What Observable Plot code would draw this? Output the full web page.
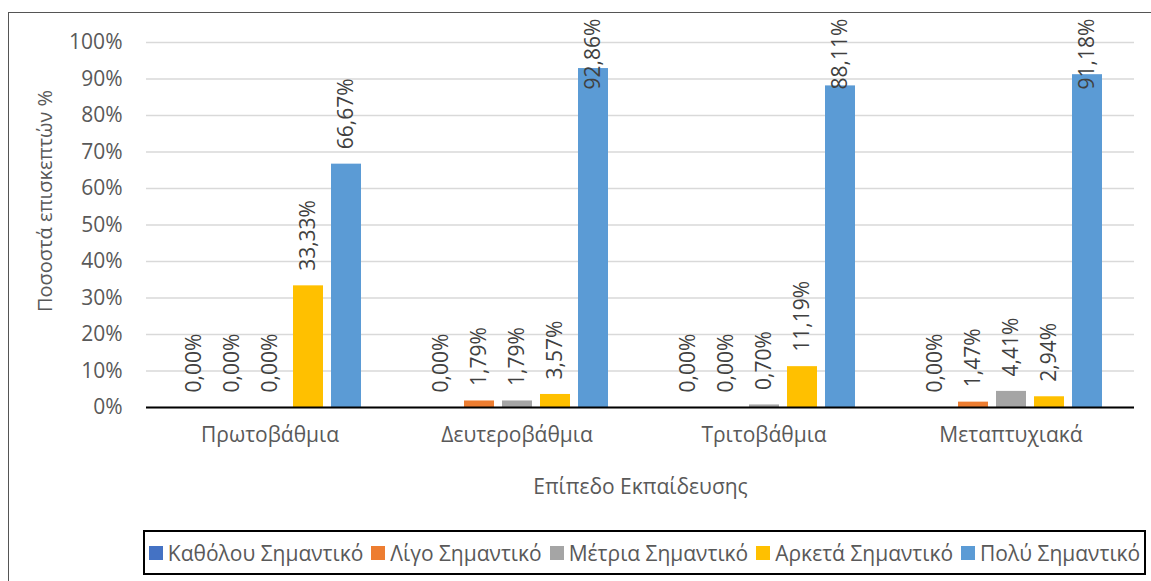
<!DOCTYPE html>
<html>
<head>
<meta charset="utf-8">
<script src="https://cdn.jsdelivr.net/npm/d3@7"></script>
<script src="https://cdn.jsdelivr.net/npm/@observablehq/plot@0.6"></script>
<style>
  html, body { margin: 0; padding: 0; background: #fff; }
  #wrap { position: relative; width: 1151px; height: 581px; overflow: hidden; font-family: "Open Sans", sans-serif; }
  #frame { position: absolute; left: 8px; top: 12px; width: 1200px; height: 700px; border-left: 1.5px solid #555; border-top: 1.5px solid #555; box-sizing: border-box; }
  #chart { position: absolute; left: 0; top: 0; }
  #ytitle { position: absolute; left: 44px; top: 201px; transform: translate(-50%, -50%) rotate(-90deg); font-size: 20px; color: #595959; white-space: nowrap; }
  #legend { position: absolute; left: 143px; top: 530px; width: 1003px; height: 45px; box-sizing: border-box; border: 2px solid #000; display: flex; align-items: center; justify-content: center; gap: 8px; font-size: 21px; color: #595959; white-space: nowrap; }
  #legend .item { display: flex; align-items: center; gap: 5px; }
  #legend .sw { width: 14px; height: 14px; display: inline-block; }
</style>
</head>
<body>
<div id="wrap">
  <div id="frame"></div>
  <div id="chart"></div>
  <div id="ytitle"></div>
  <div id="legend"></div>
</div>
<script>
const categories = ["Πρωτοβάθμια", "Δευτεροβάθμια", "Τριτοβάθμια", "Μεταπτυχιακά"];
const series = ["Καθόλου Σημαντικό", "Λίγο Σημαντικό", "Μέτρια Σημαντικό", "Αρκετά Σημαντικό", "Πολύ Σημαντικό"];
const katholou = [0, 0, 0, 0];
const ligo = [0, 1.79, 0, 1.47];
const metria = [0, 1.79, 0.70, 4.41];
const arketa = [33.33, 3.57, 11.19, 2.94];
const poly = [66.67, 92.86, 88.11, 91.18];
const colors = ["#4472C4", "#ED7D31", "#A5A5A5", "#FFC000", "#5B9BD5"];
const yTicks = [0, 10, 20, 30, 40, 50, 60, 70, 80, 90, 100];
const yTitle = "Ποσοστά επισκεπτών %";
const xTitle = "Επίπεδο Εκπαίδευσης";
const labelCap = 83; // labels kept inside the chart area, as in the original

const seriesValues = [katholou, ligo, metria, arketa, poly];
const data = [];
categories.forEach((c, ci) => {
  series.forEach((s, si) => {
    data.push({cat: c, series: s, value: seriesValues[si][ci]});
  });
});
const fmt = v => v.toFixed(2).replace(".", ",") + "%";

const chart = Plot.plot({
  width: 1151,
  height: 520,
  marginLeft: 145,
  marginRight: 16,
  marginTop: 42,
  marginBottom: 113,
  style: {fontFamily: "'Open Sans', sans-serif", fontSize: "21px", color: "#595959", background: "transparent"},
  fx: {domain: categories, padding: 0},
  x: {domain: series, paddingInner: 0.22, paddingOuter: 0.83, axis: null},
  y: {domain: [0, 100]},
  color: {domain: series, range: colors},
  marks: [
    Plot.gridY(yTicks, {stroke: "#d9d9d9", strokeOpacity: 1, strokeWidth: 1.5}),
    Plot.barY(data, {fx: "cat", x: "series", y: "value", fill: "series"}),
    Plot.ruleY([0], {stroke: "#000", strokeWidth: 2}),
    Plot.axisY(yTicks, {tickSize: 0, tickPadding: 24, tickFormat: d => d + "%", line: true, stroke: "#000", strokeWidth: 2,
      label: null, fontSize: 21}),
    Plot.axisFx({anchor: "bottom", tickSize: 0, tickPadding: 20, label: xTitle, labelAnchor: "center", labelOffset: 86, fontSize: 21}),
    Plot.text(data, {fx: "cat", x: "series", y: d => Math.min(d.value, labelCap), text: d => fmt(d.value),
      rotate: -90, textAnchor: "start", dy: -15, fontSize: 21, fill: "#404040"})
  ]
});
document.getElementById("chart").appendChild(chart);
document.getElementById("ytitle").textContent = yTitle;

const legend = document.getElementById("legend");
series.forEach((s, i) => {
  const item = document.createElement("div");
  item.className = "item";
  const sw = document.createElement("span");
  sw.className = "sw";
  sw.style.background = colors[i];
  const t = document.createElement("span");
  t.textContent = s;
  item.appendChild(sw);
  item.appendChild(t);
  legend.appendChild(item);
});
</script>
</body>
</html>
